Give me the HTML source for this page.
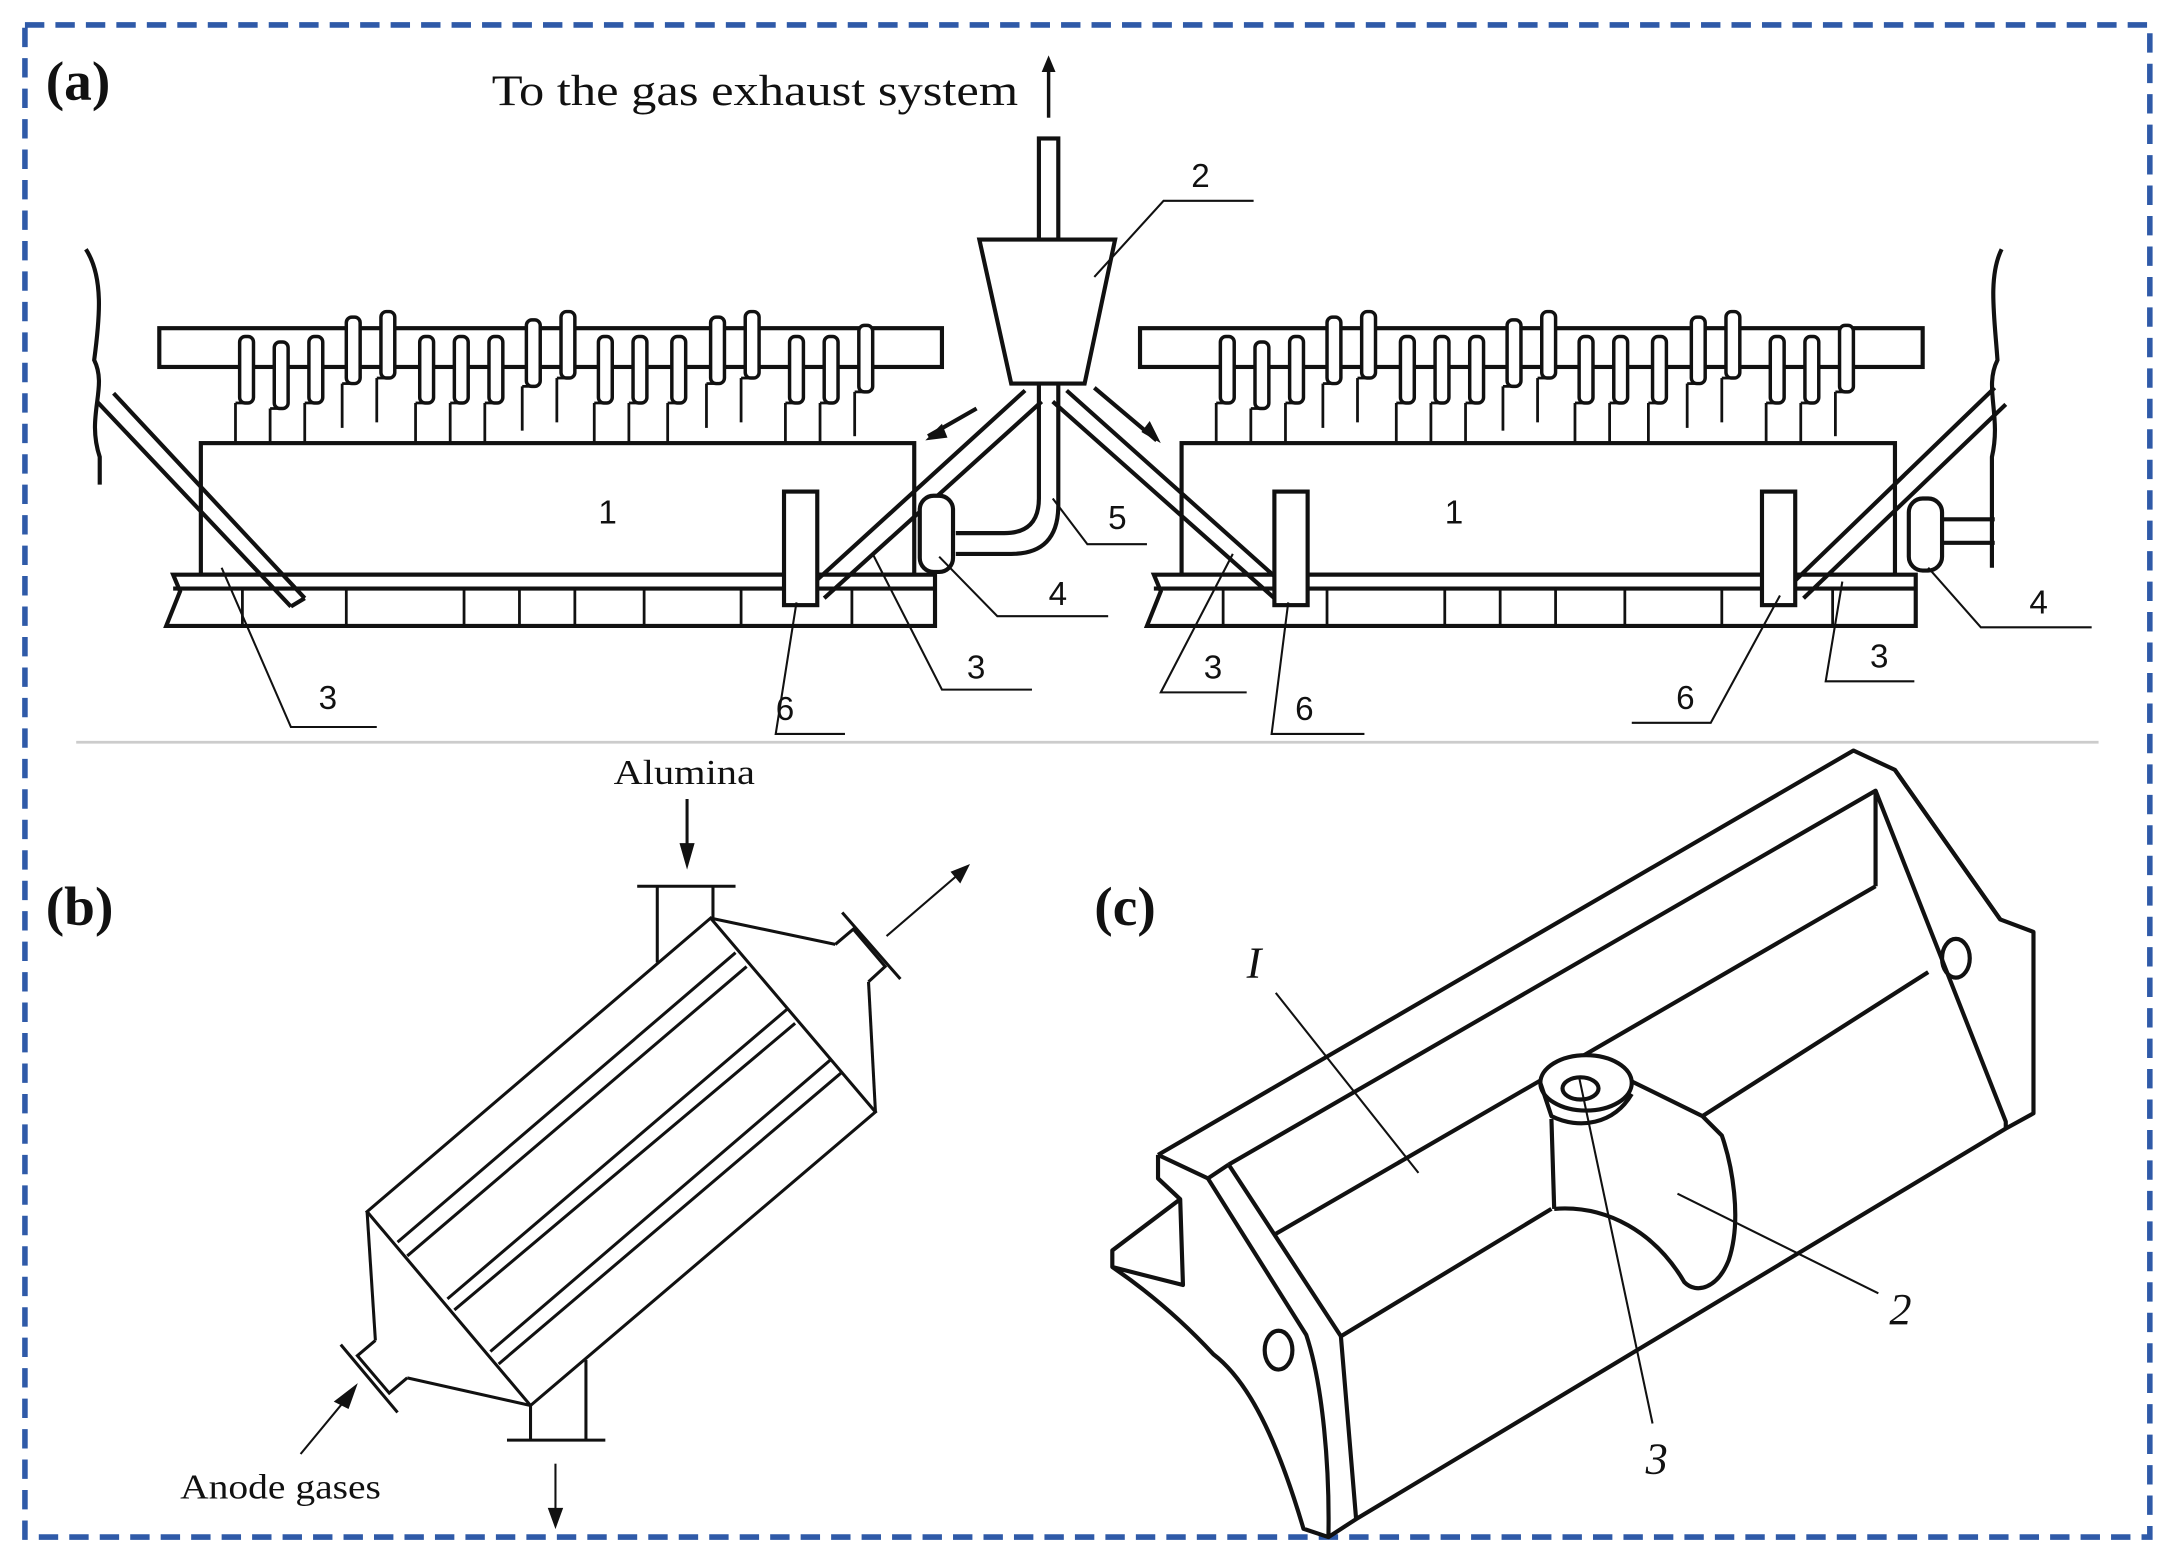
<!DOCTYPE html>
<html><head><meta charset="utf-8">
<style>
html,body{margin:0;padding:0;background:#fff;}
svg{display:block;}
text{font-family:"Liberation Serif",serif;fill:#111;}
.s{font-family:"Liberation Sans",sans-serif;}
</style></head><body>
<svg width="2172" height="1562" viewBox="0 0 1568 1128" preserveAspectRatio="none" xmlns="http://www.w3.org/2000/svg">
<defs>
<g id="rod"><rect x="-5" y="0" width="10" height="48" rx="4" fill="#fff" stroke="#111" stroke-width="2.5"/><line x1="-8" y1="48" x2="-8" y2="80" stroke="#111" stroke-width="2"/><line x1="-8" y1="48" x2="0" y2="48" stroke="#111" stroke-width="2"/></g>
<g id="cell" fill="none" stroke="#111" stroke-width="3">
<rect x="0" y="0" width="565" height="28" fill="#fff"/>
<g>
<use href="#rod" x="63" y="6"/><use href="#rod" x="88" y="10"/><use href="#rod" x="113" y="6"/><use href="#rod" x="140" y="-8"/><use href="#rod" x="165" y="-12"/><use href="#rod" x="193" y="6"/><use href="#rod" x="218" y="6"/><use href="#rod" x="243" y="6"/><use href="#rod" x="270" y="-6"/><use href="#rod" x="295" y="-12"/><use href="#rod" x="322" y="6"/><use href="#rod" x="347" y="6"/><use href="#rod" x="375" y="6"/><use href="#rod" x="403" y="-8"/><use href="#rod" x="428" y="-12"/><use href="#rod" x="460" y="6"/><use href="#rod" x="485" y="6"/><use href="#rod" x="510" y="-2"/>
</g>
<rect x="30" y="83" width="515" height="95" fill="#fff"/>
<path d="M10 178 H560 V215 H5 L15 190 Z" fill="#fff"/>
<line x1="10" y1="188" x2="560" y2="188"/>
<path d="M60 188 V215 M135 188 V215 M220 188 V215 M260 188 V215 M300 188 V215 M350 188 V215 M420 188 V215 M500 188 V215" stroke-width="2"/>
</g>
</defs>
<rect width="1568" height="1128" fill="#fff"/>
<rect x="18" y="18" width="1534" height="1092" fill="none" stroke="#2f5aa8" stroke-width="4" stroke-dasharray="14,8"/>
<line x1="55" y1="536" x2="1515" y2="536" stroke="#ccc" stroke-width="2"/>

<!-- (a) -->
<text x="33" y="72" font-size="40" font-weight="bold">(a)</text>
<text x="355" y="76" font-size="31" textLength="380" lengthAdjust="spacingAndGlyphs">To the gas exhaust system</text>
<line x1="757" y1="85" x2="757" y2="45" stroke="#111" stroke-width="2.5"/>
<path d="M752 52 L757 40 L762 52 Z" fill="#111"/>
<path d="M62 180 C75 200 72 230 68 260 C78 280 62 300 72 330 V350" fill="none" stroke="#111" stroke-width="3"/>
<path d="M1445 180 C1435 200 1440 230 1442 260 C1432 280 1445 300 1438 330 V410" fill="none" stroke="#111" stroke-width="3"/>
<use href="#cell" x="115" y="237"/>
<use href="#cell" x="823" y="237"/>
<rect x="750" y="100" width="14" height="75" fill="#fff" stroke="#111" stroke-width="3"/>
<path d="M707 173 H805 L783 277 H730 Z" fill="#fff" stroke="#111" stroke-width="3"/>
<path d="M750 277 V360 Q750 385 725 385 H690 M764 277 V365 Q764 400 730 400 H690" fill="none" stroke="#111" stroke-width="3"/>
<g stroke="#111" stroke-width="3" fill="none">
<path d="M740 282 L583 425 M752 290 L595 432"/>
<path d="M770 282 L930 425 M760 290 L920 432"/>
<path d="M70 290 L210 438 M82 284 L220 432 M210 438 L220 432"/>
<path d="M1440 280 L1290 425 M1448 292 L1302 432"/>
<path d="M705 295 L670 315 M790 280 L835 318"/>
</g>
<path d="M668 318 L680 306 L684 316 Z M838 320 L824 312 L830 304 Z" fill="#111"/>
<g fill="#fff" stroke="#111" stroke-width="3">
<rect x="566" y="355" width="24" height="82"/>
<rect x="920" y="355" width="24" height="82"/>
<rect x="1272" y="355" width="24" height="82"/>
<rect x="664" y="358" width="24" height="55" rx="10"/>
<rect x="1378" y="360" width="24" height="52" rx="10"/>
</g>
<path d="M1402 375 H1440 M1402 392 H1440" stroke="#111" stroke-width="3"/>
<g font-size="24">
<text class="s" x="432" y="378">1</text><text class="s" x="1043" y="378">1</text>
<text class="s" x="860" y="135">2</text><text class="s" x="800" y="382">5</text>
<text class="s" x="757" y="437">4</text><text class="s" x="1465" y="443">4</text>
<text class="s" x="230" y="512">3</text><text class="s" x="698" y="490">3</text><text class="s" x="869" y="490">3</text><text class="s" x="1350" y="482">3</text>
<text class="s" x="560" y="520">6</text><text class="s" x="935" y="520">6</text><text class="s" x="1210" y="512">6</text>
</g>
<g stroke="#111" stroke-width="1.5" fill="none">
<path d="M790 200 L840 145 H905"/>
<path d="M760 360 L785 393 H828"/>
<path d="M678 402 L720 445 H800"/>
<path d="M1392 410 L1430 453 H1510"/>
<path d="M160 410 L210 525 H272"/>
<path d="M630 400 L680 498 H745"/>
<path d="M890 400 L838 500 H900"/>
<path d="M1330 420 L1318 492 H1382"/>
<path d="M575 435 L560 530 H610"/>
<path d="M930 435 L918 530 H985"/>
<path d="M1285 430 L1235 522 H1178"/>
</g>

<!-- (b) -->
<text x="33" y="668" font-size="40" font-weight="bold">(b)</text>
<text x="443" y="566" font-size="25" textLength="102" lengthAdjust="spacingAndGlyphs">Alumina</text>
<text x="130" y="1082" font-size="25" textLength="145" lengthAdjust="spacingAndGlyphs">Anode gases</text>
<g stroke="#111" stroke-width="2.2" fill="none">
<line x1="496" y1="577" x2="496" y2="620"/>
<path d="M492 610 L496 624 L500 610 Z" fill="#111"/>
<line x1="460" y1="640" x2="531" y2="640"/>
<line x1="474.5" y1="640" x2="474.5" y2="695"/><line x1="514.7" y1="640" x2="514.7" y2="663"/>
<path d="M513 663 L632 803 L383 1015 L265 875 Z" fill="#fff"/>
<line x1="513" y1="663" x2="603" y2="682"/><line x1="632" y1="803" x2="627" y2="709"/>
<path d="M603 682 L616 671 L639 698 L627 709"/>
<line x1="608" y1="659" x2="650" y2="707"/>
<line x1="640" y1="676" x2="697" y2="627" stroke-width="1.5"/>
<path d="M688 630 L698 626 L693 636 Z" fill="#111"/>
<line x1="265" y1="875" x2="271" y2="968"/><line x1="383" y1="1015" x2="294" y2="995"/>
<path d="M271 968 L258 979 L281 1006 L294 995"/>
<line x1="246" y1="971" x2="287" y2="1020"/>
<line x1="217" y1="1050" x2="255" y2="1004" stroke-width="1.5"/>
<path d="M243 1012 L256 1002 L251 1016 Z" fill="#111"/>
<line x1="383" y1="1015" x2="383" y2="1040"/><line x1="423" y1="982" x2="423" y2="1040"/>
<line x1="366" y1="1040" x2="437" y2="1040"/>
<line x1="401" y1="1057" x2="401" y2="1100" stroke-width="1.5"/>
<path d="M397 1090 L401 1101 L405 1090 Z" fill="#111"/>
<line x1="531" y1="688" x2="287" y2="897"/>
<line x1="539" y1="698" x2="294" y2="907"/>
<line x1="568" y1="729" x2="323" y2="938"/>
<line x1="574" y1="739" x2="328" y2="946"/>
<line x1="600" y1="765" x2="354" y2="976"/>
<line x1="607" y1="775" x2="360" y2="985"/>
</g>

<!-- (c) -->
<text x="790" y="668" font-size="40" font-weight="bold">(c)</text>
<g stroke="#111" stroke-width="3" fill="none" stroke-linejoin="round">
<path d="M836 834 L1338 542 L1368 556 L1444 664 L1468 673 L1468 804 L1448 815 L979 1097 L959 1110 L941 1104 C925 1050 905 1000 876 978 C850 950 825 930 803 915 L803 903 L852 866 L854 928 L803 915" fill="#fff"/>
<path d="M836 834 L836 851 L852 866"/>
<path d="M836 834 L872 851 L887 841"/>
<path d="M872 851 L943 964 C955 1000 960 1060 959 1110"/>
<path d="M887 841 L1354 571 L1354 640"/>
<path d="M1368 556 L1444 664"/>
<path d="M1354 571 L1448 810 L1448 815"/>
<path d="M887 841 L968 965 L979 1097"/>
<path d="M921 891 L1354 640"/>
<path d="M968 965 L1120 873"/>
<path d="M1229 806 L1392 702"/>
<path d="M1122 873 C1160 870 1195 890 1216 926 C1225 935 1240 930 1248 910 C1258 880 1250 840 1243 820 L1229 806 L1172 778"/>
<path d="M1120 808 L1122 873"/>
<ellipse cx="1145" cy="782" rx="33" ry="20" fill="#fff"/>
<path d="M1112 782 L1120 806 C1140 816 1165 812 1178 790"/>
<ellipse cx="1141" cy="786" rx="13" ry="8"/>
<ellipse cx="1412" cy="692" rx="10" ry="14"/>
<ellipse cx="923" cy="975" rx="10" ry="14"/>
</g>
<g stroke="#111" stroke-width="1.5" fill="none">
<line x1="921" y1="717" x2="1024" y2="847"/>
<line x1="1211" y1="862" x2="1356" y2="934"/>
<line x1="1140" y1="778" x2="1193" y2="1028"/>
</g>
<g font-style="italic" font-size="32">
<text x="900" y="706">I</text>
<text x="1364" y="956">2</text>
<text x="1188" y="1064">3</text>
</g>
</svg>
</body></html>
